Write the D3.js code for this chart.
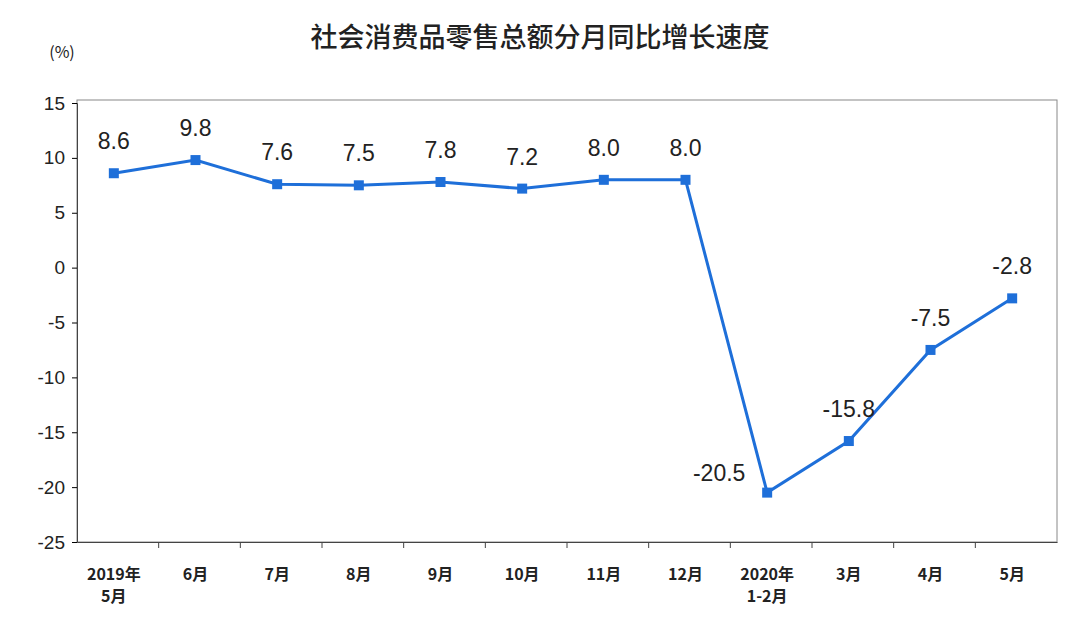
<!DOCTYPE html>
<html><head><meta charset="utf-8">
<script src="https://cdn.jsdelivr.net/npm/d3@7"></script>
<style>body{margin:0;background:#fff}</style>
</head><body>
<script>
// chart data
const categories = ["2019年\n5月","6月","7月","8月","9月","10月","11月","12月","2020年\n1-2月","3月","4月","5月"];
const values = [8.6,9.8,7.6,7.5,7.8,7.2,8.0,8.0,-20.5,-15.8,-7.5,-2.8];
const yTicks = [15,10,5,0,-5,-10,-15,-20,-25];

const W = 1080, H = 633;
const margin = {top: 103, left: 77, right: 23, bottom: 91};

var svg = d3.select('body').append('svg').attr('width', W).attr('height', H);

var x = d3.scaleBand().domain(categories).range([margin.left, W - margin.right]);
var y = d3.scaleLinear().domain([-25, 15]).range([H - margin.bottom, margin.top]);

svg.append('text').attr('x', 540).attr('y', 47).attr('text-anchor', 'middle')
  .attr('font-family', 'Noto Sans CJK SC').attr('font-weight', 500).attr('font-size', 27).attr('fill', '#222')
  .text('社会消费品零售总额分月同比增长速度');
svg.append('text').attr('x', 62).attr('y', 58).attr('text-anchor', 'middle')
  .attr('font-family', 'Noto Sans CJK SC').attr('font-size', 16).attr('fill', '#222').text('(%)');

// plot border
svg.append('rect').attr('x', margin.left).attr('y', y(15) - 3)
  .attr('width', W - margin.right - margin.left).attr('height', y(-25) - y(15) + 3)
  .attr('fill', 'none').attr('stroke', '#888').attr('stroke-width', 1);

// y axis
var yAxis = d3.axisLeft(y).tickValues(yTicks).tickSize(5).tickFormat(d => String(d));
var gy = svg.append('g').attr('transform', 'translate(' + margin.left + ',0)').call(yAxis);
gy.select('.domain').attr('stroke', '#444');
gy.selectAll('text').attr('font-family', 'Liberation Sans').attr('font-size', 19).attr('fill', '#222').attr('dx', -4);

// x axis
var xAxis = d3.axisBottom(x).tickSize(0).tickFormat('');
var gx = svg.append('g').attr('transform', 'translate(0,' + y(-25) + ')').call(xAxis);
gx.select('.domain').attr('stroke', '#444');
svg.selectAll('.xtick').data(categories.slice(1)).enter().append('line')
  .attr('x1', d => x(d)).attr('x2', d => x(d)).attr('y1', y(-25)).attr('y2', y(-25) + 6)
  .attr('stroke', '#444');
categories.forEach(function (c) {
  var t = svg.append('text').attr('x', x(c) + x.bandwidth() / 2 - 4).attr('y', y(-25) + 38)
    .attr('text-anchor', 'middle').attr('font-family', 'Noto Sans CJK SC')
    .attr('font-weight', 'bold').attr('font-size', 16).attr('fill', '#222');
  c.split('\n').forEach(function (s, i) {
    t.append('tspan').attr('x', x(c) + x.bandwidth() / 2 - 4).attr('dy', i ? 22 : 0).text(s);
  });
});

var cx = (d, i) => x(categories[i]) + x.bandwidth() / 2 - 4;
var line = d3.line().x(cx).y(d => y(d));
svg.append('path').datum(values).attr('d', line).attr('fill', 'none')
  .attr('stroke', '#1e6fd9').attr('stroke-width', 3);
svg.selectAll('.pt').data(values).enter().append('rect')
  .attr('x', (d, i) => cx(d, i) - 5).attr('y', d => y(d) - 5)
  .attr('width', 10).attr('height', 10).attr('fill', '#1e6fd9');

svg.selectAll('.lbl').data(values).enter().append('text')
  .attr('x', (d, i) => i == 8 ? cx(d, i) - 48 : cx(d, i))
  .attr('y', (d, i) => i == 8 ? y(d) - 12 : y(d) - 24)
  .attr('text-anchor', 'middle').attr('font-family', 'Liberation Sans')
  .attr('font-size', 23).attr('fill', '#222')
  .text(d => d.toFixed(1));
</script>
</body></html>
